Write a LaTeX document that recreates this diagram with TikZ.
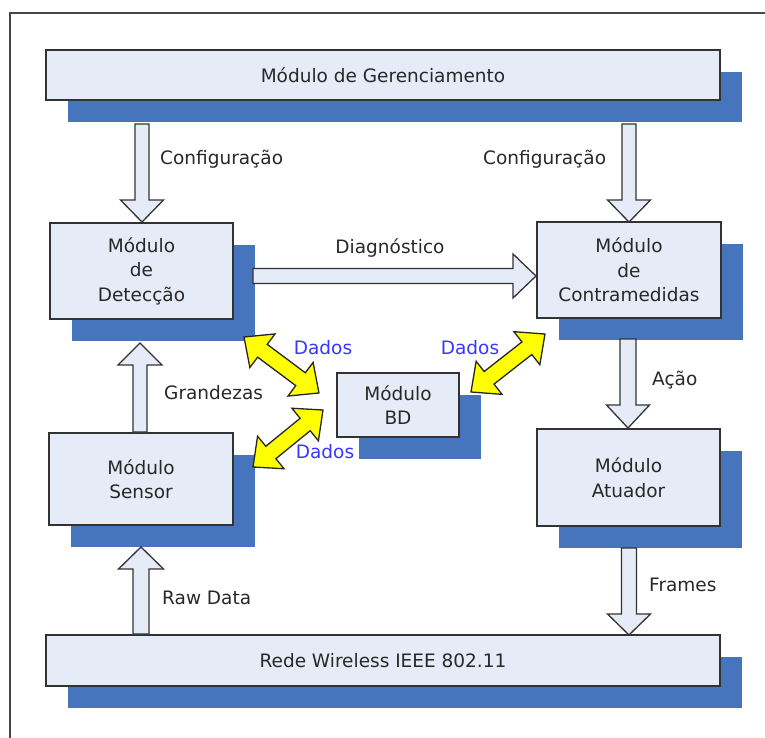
\documentclass[tikz,border=0pt]{standalone}
\usepackage{fontspec}
\setmainfont{DejaVu Sans}
\usetikzlibrary{shadows}
\definecolor{boxfill}{RGB}{230,236,247}
\definecolor{shadowblue}{RGB}{70,117,190}
\definecolor{edgegray}{RGB}{51,51,51}
\definecolor{txtgray}{RGB}{40,40,40}
\definecolor{dadosblue}{RGB}{55,55,255}
\definecolor{yel}{RGB}{255,255,0}
\newcommand\fatarr[6]{%
  \pgfpointanchor{#2}{center}\pgfgetlastxy\fax\fay
  \pgfpointanchor{#3}{center}\pgfgetlastxy\fbx\fby
  \pgfmathsetmacro\fang{atan2((\fby)-(\fay),(\fbx)-(\fax))}%
  \pgfmathsetmacro\flen{veclen((\fbx)-(\fax),(\fby)-(\fay))}%
  \pgfmathsetmacro\fsh{\flen-#6}%
  \draw[#1,shift={(\fax,\fay)},rotate=\fang]
    (0pt,#4pt) -- (\fsh pt,#4pt) -- (\fsh pt,#5pt) -- (\flen pt,0pt)
    -- (\fsh pt,-#5pt) -- (\fsh pt,-#4pt) -- (0pt,-#4pt) -- cycle;
}
\newcommand\dblarr[6]{%
  \pgfpointanchor{#2}{center}\pgfgetlastxy\fax\fay
  \pgfpointanchor{#3}{center}\pgfgetlastxy\fbx\fby
  \pgfmathsetmacro\fang{atan2((\fby)-(\fay),(\fbx)-(\fax))}%
  \pgfmathsetmacro\flen{veclen((\fbx)-(\fax),(\fby)-(\fay))}%
  \pgfmathsetmacro\fsh{\flen-#6}%
  \draw[#1,shift={(\fax,\fay)},rotate=\fang]
    (0pt,0pt) -- (#6pt,#5pt) -- (#6pt,#4pt) -- (\fsh pt,#4pt) -- (\fsh pt,#5pt) -- (\flen pt,0pt)
    -- (\fsh pt,-#5pt) -- (\fsh pt,-#4pt) -- (#6pt,-#4pt) -- (#6pt,-#5pt) -- cycle;
}
\tikzset{
  modbox/.style={rectangle, draw=edgegray, line width=1.6pt, fill=boxfill,
    text=txtgray, align=center, font=\fontsize{18.5}{24.5}\selectfont,
    inner sep=0pt,
    drop shadow={shadow xshift=22pt, shadow yshift=-22pt, fill=shadowblue, opacity=1, shadow scale=1}},
  lbl/.style={text=txtgray, font=\fontsize{18.5}{24.5}\selectfont, inner sep=0pt, anchor=base west},
  dados/.style={text=dadosblue, font=\fontsize{18.5}{24.5}\selectfont, inner sep=0pt, anchor=base},
  fatw/.style={draw=edgegray, fill=boxfill, line width=1.3pt},
  faty/.style={draw=black!85, fill=yel, line width=1.3pt},
}
\begin{document}
\begin{tikzpicture}[x=1pt,y=-1pt]
\useasboundingbox (0,0) rectangle (765,738);
\draw[edgegray!90, line width=1.5pt] (766,13) -- (10,13) -- (10,739);

\node[modbox, minimum width=674pt, minimum height=50pt] (ger) at (383,75) {Módulo de Gerenciamento};
\node[modbox, minimum width=183pt, minimum height=96pt] (det) at (141.5,271) {Módulo\\de\\Detecção};
\node[modbox, minimum width=184pt, minimum height=96pt] (con) at (629,270) {Módulo\\de\\Contramedidas};
\node[modbox, minimum width=122pt, minimum height=64pt] (bd) at (398,405) {Módulo\\BD};
\node[modbox, minimum width=184pt, minimum height=92pt] (sen) at (141,479) {Módulo\\Sensor};
\node[modbox, minimum width=183pt, minimum height=97pt] (atu) at (628.5,477.5) {Módulo\\Atuador};
\node[modbox, minimum width=674pt, minimum height=51pt] (rede) at (383,660.5) {Rede Wireless IEEE 802.11};

% arrow end points
\coordinate (cfgLa) at (142,124); \coordinate (cfgLb) at (142,222);
\coordinate (cfgRa) at (629,124); \coordinate (cfgRb) at (629,222);
\coordinate (diaga) at (253,276); \coordinate (diagb) at (536,276);
\coordinate (grana) at (140,432); \coordinate (granb) at (140,343);
\coordinate (acaoa) at (628,339); \coordinate (acaob) at (628,428);
\coordinate (frma) at (629,548); \coordinate (frmb) at (629,635);
\coordinate (rawa) at (141,634); \coordinate (rawb) at (141,547);

\fatarr{fatw}{cfgLa}{cfgLb}{7}{21.5}{22}
\fatarr{fatw}{cfgRa}{cfgRb}{7}{21.5}{22}
\fatarr{fatw}{diaga}{diagb}{7.5}{22}{23}
\fatarr{fatw}{grana}{granb}{7}{22}{22}
\fatarr{fatw}{acaoa}{acaob}{8}{21.5}{23}
\fatarr{fatw}{frma}{frmb}{7.5}{21.5}{21}
\fatarr{fatw}{rawa}{rawb}{8}{22.5}{22}

\coordinate (y1a) at (244,337); \coordinate (y1b) at (319,393);
\coordinate (y2a) at (253,467); \coordinate (y2b) at (323,410);
\coordinate (y3a) at (471,392); \coordinate (y3b) at (545,334);
\dblarr{faty}{y1a}{y1b}{8}{21}{23}
\dblarr{faty}{y2a}{y2b}{8}{21}{23}
\dblarr{faty}{y3a}{y3b}{8}{21}{23}

\node[lbl] (lcfgL) at (160,165) {Configuração};
\node[lbl] (lcfgR) at (483,165) {Configuração};
\node[lbl, anchor=base] (ldiag) at (390,253) {Diagnóstico};
\node[lbl] (lgran) at (164,399) {Grandezas};
\node[lbl] (lacao) at (652,385) {Ação};
\node[lbl] (lfrm) at (649,591) {Frames};
\node[lbl] (lraw) at (162,604) {Raw Data};
\node[dados] (d1) at (323,354) {Dados};
\node[dados] (d2) at (470,354) {Dados};
\node[dados] (d3) at (325,458) {Dados};
\end{tikzpicture}
\end{document}
